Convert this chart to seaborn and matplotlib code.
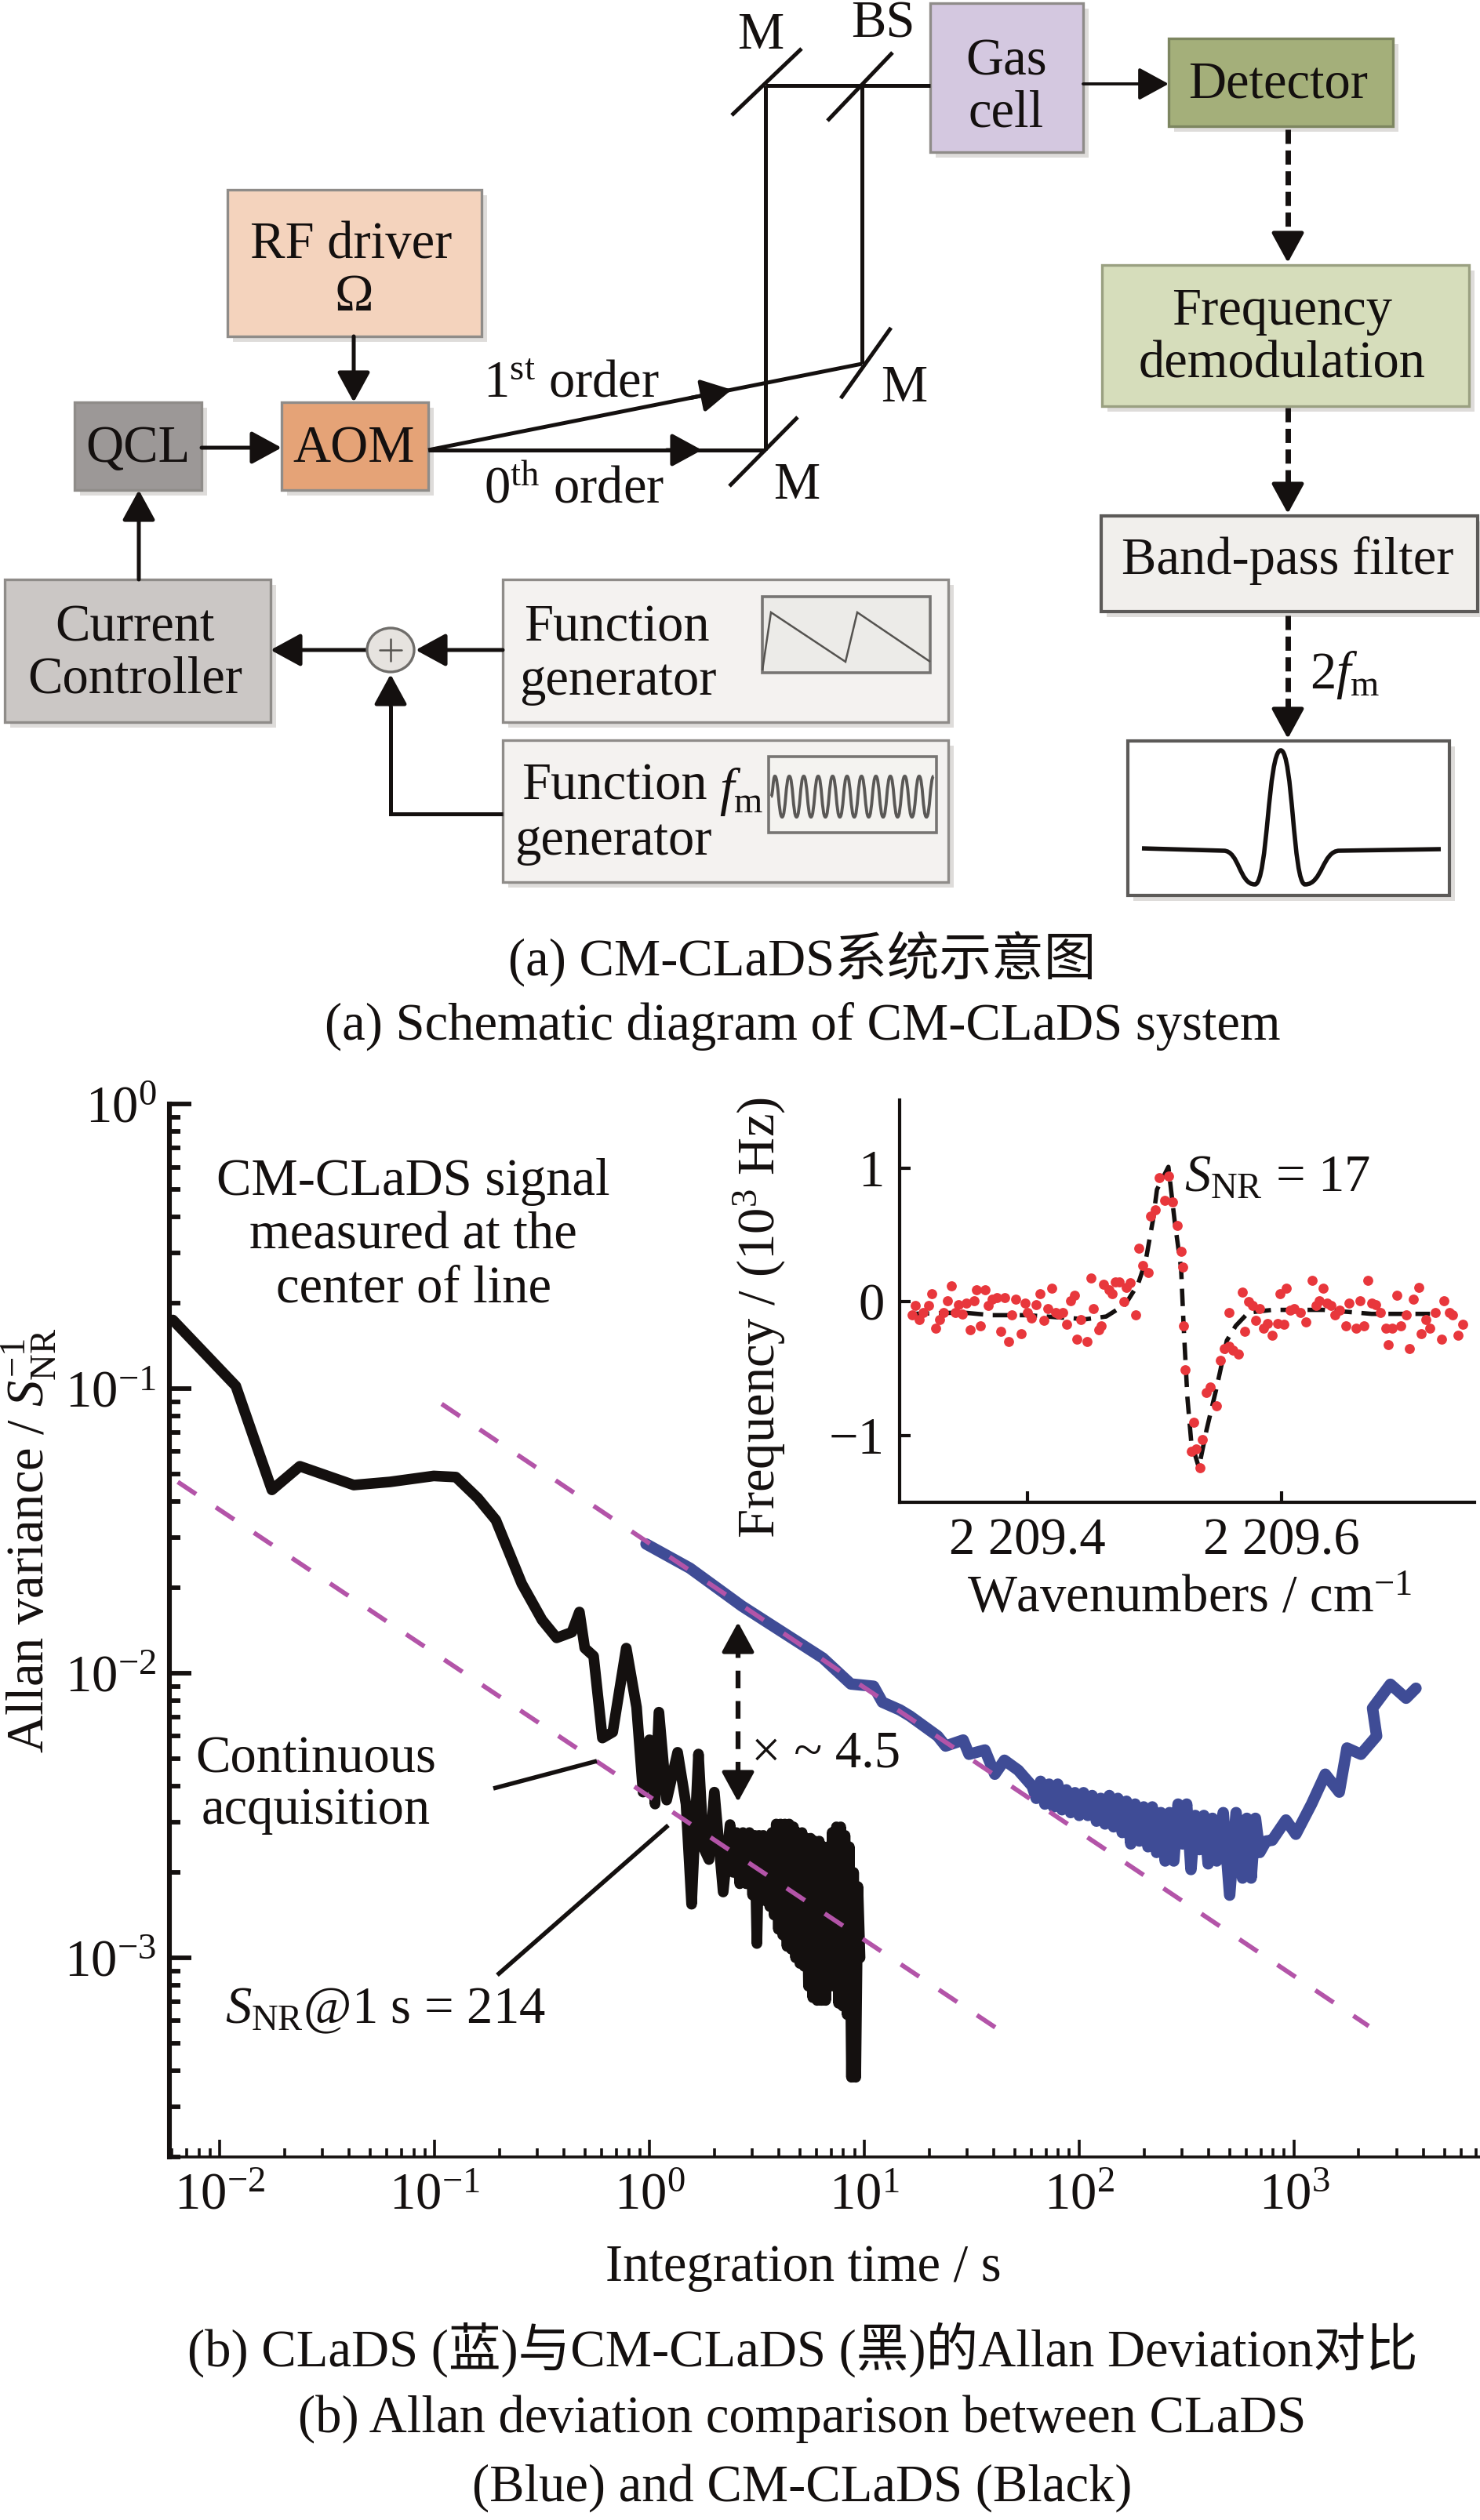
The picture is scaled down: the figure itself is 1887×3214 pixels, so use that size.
import numpy as np
import pandas as pd
import matplotlib
matplotlib.use('Agg')
import matplotlib.pyplot as plt
from matplotlib.patches import Rectangle, Ellipse, PathPatch
from matplotlib.path import Path
from matplotlib.ticker import LogLocator, FixedLocator, FixedFormatter, NullFormatter
import seaborn as sns

sns.set_theme(style='white')
plt.rcParams['font.family'] = ['Liberation Serif', 'Noto Sans CJK SC']
plt.rcParams['mathtext.fontset'] = 'custom'
plt.rcParams['mathtext.rm'] = 'Liberation Serif'
plt.rcParams['mathtext.it'] = 'Liberation Serif:italic'
plt.rcParams['mathtext.default'] = 'regular'
plt.rcParams['axes.unicode_minus'] = True

W, H = 1887, 3214
FS = 48
INK = '#14100f'

# Allan curves, as decades (log10 of time, log10 of variance)
black_logt = [-2.218, -2.084, -1.925, -1.841, -1.757, -1.627, -1.376, -1.208, -1.004, -0.901,
              -0.799, -0.715, -0.594, -0.500, -0.432, -0.361, -0.326, -0.301, -0.260, -0.219,
              -0.171, -0.108, -0.060, -0.030, 0.000, 0.026, 0.044, 0.080, 0.131, 0.170,
              0.196, 0.228, 0.252, 0.277, 0.302, 0.343, 0.375,
              0.390, 0.405, 0.420, 0.435, 0.450, 0.465, 0.480, 0.490, 0.500, 0.510, 0.520, 0.530, 0.540,
              0.550, 0.560, 0.570, 0.580, 0.590, 0.600, 0.610, 0.620, 0.630, 0.640, 0.650, 0.660, 0.670,
              0.680, 0.690, 0.700, 0.710, 0.720, 0.730, 0.740, 0.750, 0.760, 0.770, 0.780, 0.790, 0.800,
              0.810, 0.820, 0.830, 0.840, 0.850, 0.860, 0.870, 0.880, 0.890, 0.900, 0.910, 0.920, 0.930,
              0.940, 0.950, 0.960, 0.970, 0.980]
black_logy = [-0.759, -0.865, -0.991, -1.174, -1.356, -1.273, -1.339, -1.328, -1.307, -1.311,
              -1.385, -1.462, -1.686, -1.813, -1.876, -1.856, -1.785, -1.912, -1.940, -2.228,
              -2.207, -1.912, -2.120, -2.418, -2.234, -2.460, -2.137, -2.446, -2.278, -2.460,
              -2.812, -2.284, -2.614, -2.655, -2.418, -2.769, -2.532,
              -2.700, -2.560, -2.740, -2.560, -2.740, -2.560, -2.780, -2.570, -2.950, -2.570, -2.780, -2.570, -2.800,
              -2.590, -2.820, -2.560, -2.850, -2.530, -2.900, -2.530, -2.920, -2.530, -2.960, -2.530, -2.970, -2.540,
              -3.000, -2.560, -3.020, -2.560, -3.030, -2.580, -3.100, -2.580, -3.140, -2.590, -3.150, -2.590, -3.150,
              -2.610, -3.150, -2.610, -3.100, -2.560, -3.100, -2.540, -3.160, -2.540, -3.170, -2.570, -3.200, -2.610,
              -3.420, -2.700, -3.420, -2.750, -3.000]

blue_logt = [-0.016, 0.188, 0.430, 0.807, 0.937, 1.043, 1.084, 1.165, 1.213, 1.341, 1.378, 1.460,
             1.487, 1.561, 1.607, 1.652, 1.716, 1.781,
             1.80, 1.82, 1.84, 1.86, 1.88, 1.90, 1.92, 1.94, 1.96, 1.98, 2.00, 2.02, 2.04, 2.06, 2.08, 2.10,
             2.12, 2.14, 2.16, 2.18, 2.20, 2.22, 2.24, 2.26, 2.28, 2.30, 2.32, 2.34, 2.36, 2.38, 2.40, 2.42,
             2.44, 2.46, 2.48, 2.50, 2.52, 2.54, 2.56, 2.58, 2.60, 2.62, 2.64, 2.67, 2.70, 2.73, 2.76, 2.78,
             2.80, 2.82, 2.84, 2.87,
             2.898, 2.962, 3.008, 3.081, 3.145, 3.210, 3.246, 3.311, 3.384, 3.365, 3.448, 3.521, 3.567]
blue_logy = [-1.546, -1.631, -1.764, -1.947, -2.038, -2.046, -2.102, -2.129, -2.151, -2.221, -2.256, -2.235,
             -2.285, -2.270, -2.355, -2.306, -2.341, -2.397,
             -2.44, -2.38, -2.46, -2.39, -2.47, -2.39, -2.48, -2.41, -2.49, -2.42, -2.50, -2.42, -2.50, -2.43,
             -2.52, -2.44, -2.53, -2.43, -2.54, -2.44, -2.56, -2.45, -2.60, -2.46, -2.59, -2.47, -2.61, -2.47,
             -2.63, -2.49, -2.66, -2.49, -2.66, -2.46, -2.60, -2.46, -2.69, -2.50, -2.62, -2.50, -2.67, -2.51,
             -2.66, -2.49, -2.78, -2.49, -2.72, -2.51, -2.72, -2.51, -2.63, -2.59,
             -2.587, -2.516, -2.566, -2.460, -2.355, -2.418, -2.263, -2.285, -2.221, -2.123, -2.039, -2.088, -2.053]

guide_low_logt = [-2.195, 1.616]
guide_low_logy = [-1.328, -3.248]
guide_high_logt = [-0.967, 3.347]
guide_high_logy = [-1.054, -3.240]

# inset, wavenumber given as cm-1 above 2209
dot_wn = [0.309, 0.312, 0.315, 0.318, 0.322, 0.325, 0.328, 0.331, 0.334, 0.337, 0.340, 0.343, 0.346, 0.349,
          0.352, 0.355, 0.358, 0.360, 0.363, 0.367, 0.369, 0.372, 0.376, 0.379, 0.382, 0.385, 0.388, 0.391,
          0.395, 0.398, 0.400, 0.403, 0.407, 0.410, 0.413, 0.416, 0.419, 0.422, 0.425, 0.428, 0.431, 0.434,
          0.437, 0.439, 0.442, 0.447, 0.450, 0.452, 0.456, 0.458, 0.460, 0.464, 0.467, 0.469, 0.472, 0.476,
          0.478, 0.481, 0.485, 0.488, 0.491, 0.495, 0.497, 0.501, 0.504, 0.508, 0.511, 0.514, 0.518, 0.521,
          0.522, 0.523, 0.524, 0.531, 0.529, 0.533, 0.536, 0.538, 0.541, 0.544, 0.549, 0.552, 0.555, 0.559,
          0.562, 0.566, 0.559, 0.569, 0.571, 0.574, 0.577, 0.580, 0.583, 0.586, 0.589, 0.593, 0.597, 0.599,
          0.602, 0.604, 0.607, 0.610, 0.615, 0.619, 0.624, 0.627, 0.630, 0.633, 0.636, 0.639, 0.642, 0.646,
          0.651, 0.653, 0.659, 0.662, 0.665, 0.668, 0.671, 0.674, 0.678, 0.682, 0.684, 0.687, 0.691, 0.694,
          0.698, 0.701, 0.704, 0.708, 0.710, 0.714, 0.717, 0.721, 0.726, 0.728, 0.732, 0.735, 0.739, 0.743]
dot_freq = [-0.10, -0.03, -0.13, -0.08, -0.03, 0.06, -0.20, -0.13, -0.08, 0.01, 0.12, -0.08, -0.02, -0.09,
            -0.01, -0.21, 0.01, 0.09, -0.18, 0.09, -0.03, 0.02, 0.03, -0.22, 0.03, -0.30, -0.10, 0.02,
            -0.24, -0.01, -0.08, -0.12, -0.02, 0.06, -0.14, -0.05, 0.10, -0.08, -0.09, -0.08, -0.17, 0.01,
            0.05, -0.28, -0.13, -0.30, 0.18, -0.05, -0.21, -0.18, 0.13, 0.09, 0.06, 0.15, 0.15, 0.00,
            0.11, 0.14, -0.10, 0.40, 0.27, 0.22, 0.64, 0.69, 0.93, 0.76, 0.94, 0.75, 0.57, 0.38,
            0.26, -0.18, -0.51, -0.90, -1.12, -1.10, -1.24, -1.03, -0.68, -0.64, -0.78, -0.44, -0.35, -0.33,
            -0.36, -0.39, -0.08, 0.07, -0.22, 0.00, -0.03, -0.14, -0.05, -0.20, -0.16, -0.25, -0.16, 0.06,
            -0.17, 0.10, -0.06, -0.05, -0.08, -0.15, 0.16, -0.03, 0.01, 0.10, -0.01, -0.03, -0.10, -0.06,
            -0.18, -0.01, -0.20, 0.01, -0.18, 0.16, -0.01, -0.02, -0.08, -0.20, -0.32, -0.20, 0.05, -0.18,
            -0.10, -0.35, 0.02, 0.11, -0.24, -0.13, -0.20, -0.08, -0.28, 0.01, -0.08, -0.10, -0.25, -0.17]
fit_wn = [0.309, 0.349, 0.372, 0.400, 0.415, 0.446, 0.462, 0.477, 0.487, 0.493, 0.499, 0.502, 0.511, 0.516,
          0.521, 0.523, 0.526, 0.529, 0.535, 0.541, 0.549, 0.557, 0.564, 0.574, 0.593, 0.633, 0.671, 0.717]
fit_freq = [-0.09, -0.08, -0.10, -0.10, -0.11, -0.13, -0.11, -0.02, 0.13, 0.30, 0.62, 0.84, 1.01, 0.60,
            0.25, -0.18, -0.72, -1.05, -1.24, -0.96, -0.64, -0.29, -0.18, -0.08, -0.06, -0.06, -0.09, -0.09]

wn_ticks = [2209.4, 2209.6]
wn_labels = ['2 209.4', '2 209.6']
freq_ticks = [-1, 0, 1]
freq_labels = ['\u22121', '0', '1']

black = pd.DataFrame({'t': 10.0 ** np.array(black_logt), 'v': 10.0 ** np.array(black_logy)})
blue = pd.DataFrame({'t': 10.0 ** np.array(blue_logt), 'v': 10.0 ** np.array(blue_logy)})
dots = pd.DataFrame({'wn': 2209 + np.array(dot_wn), 'f': dot_freq})
fit = pd.DataFrame({'wn': 2209 + np.array(fit_wn), 'f': fit_freq})

fig = plt.figure(figsize=(W / 100, H / 100), dpi=100, facecolor='white')


def rect_from_px(x0, y0, x1, y1):
    return [x0 / W, 1 - y1 / H, (x1 - x0) / W, (y1 - y0) / H]


# main plot
ax = fig.add_axes(rect_from_px(216, 1408, W, 2751), facecolor='none')
ax.set_xscale('log')
ax.set_yscale('log')
dash_style = (0, (4.8, 5.2))
for lt, ly in [(guide_low_logt, guide_low_logy), (guide_high_logt, guide_high_logy)]:
    guide = pd.DataFrame({'t': 10.0 ** np.array(lt), 'v': 10.0 ** np.array(ly)})
    sns.lineplot(data=guide, x='t', y='v', ax=ax, color='#b354a8', linewidth=4.2, linestyle=dash_style,
                 zorder=4, estimator=None, sort=False)
sns.lineplot(data=black, x='t', y='v', ax=ax, color=INK, linewidth=9.8, estimator=None, sort=False,
             solid_joinstyle='round', solid_capstyle='round', zorder=3)
sns.lineplot(data=blue, x='t', y='v', ax=ax, color='#3f4c96', linewidth=10.5, estimator=None, sort=False,
             solid_joinstyle='round', solid_capstyle='round', zorder=3)
ax.set_xlim(10 ** -2.234, 10 ** 3.865)
ax.set_ylim(10 ** -3.70, 1)
sns.despine(ax=ax)
ax.spines['left'].set_linewidth(4.4)
ax.spines['bottom'].set_linewidth(2.6)
ax.spines['left'].set_color(INK)
ax.spines['bottom'].set_color(INK)
ax.xaxis.set_major_locator(LogLocator(base=10, numticks=12))
ax.xaxis.set_minor_locator(LogLocator(base=10, subs=range(2, 10), numticks=12))
ax.yaxis.set_major_locator(LogLocator(base=10, numticks=12))
ax.yaxis.set_minor_locator(LogLocator(base=10, subs=range(2, 10), numticks=12))
ax.xaxis.set_minor_formatter(NullFormatter())
ax.yaxis.set_minor_formatter(NullFormatter())
ax.tick_params(axis='x', which='major', direction='in', length=16, width=2.6, color=INK,
               labelsize=FS, labelcolor=INK, pad=14, bottom=True)
ax.tick_params(axis='x', which='minor', direction='in', length=8, width=2.6, color=INK, bottom=True)
ax.tick_params(axis='y', which='major', direction='in', length=20, width=4.2, color=INK,
               labelsize=FS, labelcolor=INK, pad=12, left=True)
ax.tick_params(axis='y', which='minor', direction='in', length=10, width=4.2, color=INK, left=True)
ax.set_xlabel('Integration time / s', fontsize=FS, color=INK, va='center')
ax.xaxis.set_label_coords(0.484, -0.105)
ax.set_ylabel(r'Allan variance / $\mathit{S}_{NR}^{-1}$', fontsize=FS, color=INK, va='center')
ax.yaxis.set_label_coords(-0.107, 0.585)

# spectrum inset
axi = fig.add_axes(rect_from_px(1147, 1403, 1880, 1916), facecolor='none')
sns.lineplot(data=fit, x='wn', y='f', ax=axi, color=INK, linewidth=4, linestyle=(0, (4, 2.2)),
             estimator=None, sort=False, zorder=3)
sns.scatterplot(data=dots, x='wn', y='f', ax=axi, color='#e8373c', s=85, linewidth=0, zorder=4, clip_on=False)
axi.set_xlim(2209.2994, 2209.752)
axi.set_ylim(-1.5, 1.51)
sns.despine(ax=axi)
for side in ['left', 'bottom']:
    axi.spines[side].set_linewidth(3)
    axi.spines[side].set_color(INK)
axi.xaxis.set_major_locator(FixedLocator(wn_ticks))
axi.xaxis.set_major_formatter(FixedFormatter(wn_labels))
axi.yaxis.set_major_locator(FixedLocator(freq_ticks))
axi.yaxis.set_major_formatter(FixedFormatter(freq_labels))
axi.tick_params(axis='both', direction='in', length=10, width=3, color=INK, labelsize=FS,
                labelcolor=INK, left=True, bottom=True, pad=14)
axi.set_xlabel('Wavenumbers / cm$^{-1}$', fontsize=FS, color=INK, va='center')
axi.xaxis.set_label_coords(0.505, -0.24)
axi.set_ylabel('Frequency / (10$^{3}$ Hz)', fontsize=FS, color=INK, va='center')
axi.yaxis.set_label_coords(-0.243, 0.458)

# overlay in image pixels for the schematic, captions and annotations
ov = fig.add_axes([0, 0, 1, 1], facecolor='none', zorder=10)
ov.set_xlim(0, W)
ov.set_ylim(H, 0)
ov.set_xticks([])
ov.set_yticks([])
ov.axis('off')


def txt(x, y, s, ha='center', size=FS, **kw):
    ov.text(x, y + 5, s, ha=ha, va='center', fontsize=size, color=INK, **kw)


def box(x0, y0, x1, y1, fc, ec='#8f8c89', shadow=True, lw=2.4):
    if shadow:
        ov.add_patch(Rectangle((x0 + 7, y0 + 7), x1 - x0, y1 - y0, fc='#dedcda', ec='none', zorder=1))
    ov.add_patch(Rectangle((x0, y0), x1 - x0, y1 - y0, fc=fc, ec=ec, lw=lw, zorder=2))


def seg(pts, lw=3.6, color=INK, **kw):
    xs, ys = zip(*pts)
    ov.plot(xs, ys, color=color, lw=lw, solid_capstyle='butt', solid_joinstyle='miter', zorder=3, **kw)


def arrow(x0, y0, x1, y1, lw=3.6):
    ov.annotate('', xy=(x1, y1), xytext=(x0, y0), zorder=4,
                arrowprops=dict(arrowstyle='-|>,head_length=0.55,head_width=0.3', mutation_scale=43,
                                lw=lw, color=INK, shrinkA=0, shrinkB=0))


def dash_arrow(x, y0, y1):
    seg([(x, y0), (x, y1 - 30)], lw=5, linestyle=(0, (2.6, 1.2)))
    arrow(x, y1 - 34, x, y1)


box(290, 242, 614, 429, '#f4d3bd')
box(95, 513, 257, 625, '#9c9897')
box(359, 513, 546, 625, '#e5a377')
box(6, 739, 345, 921, '#cbc7c5')
box(641, 739, 1209, 921, '#f4f2f0')
box(641, 944, 1209, 1125, '#f4f2f0')
box(1186, 4, 1381, 194, '#d4c8e0')
box(1490, 49, 1776, 161, '#a4af7a', ec='#7d8660')
box(1405, 338, 1873, 518, '#d6ddbb', ec='#9aa081')
box(1404, 658, 1884, 780, '#f1efec', ec='#5c5a58', lw=3)
box(1438, 945, 1848, 1142, 'white', ec='#5c5a58', lw=3)

# saw and sine glyphs
box(972, 761, 1186, 858, '#ecebe8', ec='#777573', lw=2.6)
seg([(972, 855), (983, 781), (1078, 844), (1093, 781), (1186, 844)], lw=1.8, color='#555350')
box(980, 965, 1194, 1062, '#f4f3f0', ec='#777573', lw=2.6)
verts, codes = [(983, 1016)], [Path.MOVETO]
px, py = 983, 1016
for i in range(23):
    nx, ny = 988 + i * 9.2, (990 if i % 2 == 0 else 1042)
    mid = (px + nx) / 2
    verts += [(mid, py), (mid, ny), (nx, ny)]
    codes += [Path.CURVE4] * 3
    px, py = nx, ny
ov.add_patch(PathPatch(Path(verts, codes), fc='none', ec='#5a5856', lw=2.8, zorder=3))

# 2f_m line shape
shape = [(1560, 1085), (1600, 1128), (1633, 957), (1664, 1128), (1708, 1085)]
verts, codes = [(1456, 1082), shape[0]], [Path.MOVETO, Path.LINETO]
for (ax0, ay0), (ax1, ay1) in zip(shape[:-1], shape[1:]):
    mid = (ax0 + ax1) / 2
    verts += [(mid, ay0), (mid, ay1), (ax1, ay1)]
    codes += [Path.CURVE4] * 3
verts.append((1837, 1083))
codes.append(Path.LINETO)
ov.add_patch(PathPatch(Path(verts, codes), fc='none', ec=INK, lw=4, zorder=3))

# beam paths and mirrors
seg([(976, 109), (1186, 109)])
seg([(976, 109), (976, 574)])
seg([(1099, 109), (1099, 464)])
seg([(546, 574), (976, 574)])
seg([(546, 574), (1099, 464)])
arrow(850, 574, 895, 574)
arrow(880, 507.6, 933, 497)
for m in [[(933, 147), (1022, 62)], [(1055, 154), (1138, 67)], [(1072, 508), (1136, 418)], [(930, 620), (1017, 532)]]:
    seg(m)

arrow(451, 429, 451, 513)
arrow(257, 571, 359, 571)
arrow(177, 739, 177, 625)
arrow(468, 829, 345, 829)
arrow(641, 829, 530, 829)
seg([(641, 1038), (498, 1038), (498, 900)])
arrow(498, 900, 498, 860)
arrow(1381, 107, 1490, 107, lw=2.8)
dash_arrow(1642, 165, 335)
dash_arrow(1642, 520, 655)
dash_arrow(1642, 785, 942)

ov.add_patch(Ellipse((498, 829), 60, 56, fc='#e6e3df', ec='#6f6d6a', lw=2.4, zorder=5))
ov.plot([484, 512], [829, 829], color='#55534f', lw=1.8, zorder=6)
ov.plot([498, 498], [815, 843], color='#55534f', lw=1.8, zorder=6)

# schematic text
txt(448, 307, 'RF driver')
txt(451, 374, '\u03a9')
txt(176, 568, 'QCL')
txt(451, 568, 'AOM')
txt(172, 796, 'Current')
txt(172, 862, 'Controller')
txt(786, 796, 'Function')
txt(788, 864, 'generator')
txt(783, 998, 'Function')
txt(782, 1068, 'generator')
txt(945, 1005, r'$\mathit{f}_{m}$')
txt(728, 484, '1$^{st}$ order')
txt(732, 620, '0$^{th}$ order')
txt(970, 40, 'M')
txt(1126, 26, 'BS')
txt(1153, 491, 'M')
txt(1016, 615, 'M')
txt(1283, 74, 'Gas')
txt(1283, 140, 'cell')
txt(1630, 103, 'Detector')
txt(1635, 392, 'Frequency')
txt(1635, 460, 'demodulation')
txt(1642, 710, 'Band-pass filter')
txt(1715, 856, r'2$\mathit{f}_{m}$')

# plot annotations
txt(527, 1502, 'CM-CLaDS signal')
txt(527, 1571, 'measured at the')
txt(527, 1639, 'center of line')
txt(403, 2239, 'Continuous')
txt(403, 2305, 'acquisition')
txt(287, 2560, r'$\mathit{S}_{NR}$@1 s = 214', ha='left')
txt(1510, 1498, r'$\mathit{S}_{NR}$ = 17', ha='left')
txt(958, 2232, '\u00d7 ~ 4.5', ha='left')
seg([(629, 2281), (761, 2246)], lw=4)
seg([(634, 2519), (852, 2328)], lw=4)
seg([(941, 2092), (941, 2276)], lw=4.5, linestyle=(0, (3.6, 2.6)))
arrow(941, 2104, 941, 2069)
arrow(941, 2263, 941, 2298)

# captions
txt(1023, 1218, '(a) CM-CLaDS系统示意图')
txt(1023, 1304, '(a) Schematic diagram of CM-CLaDS system')
txt(1023, 2992, '(b) CLaDS (蓝)与CM-CLaDS (黑)的Allan Deviation对比')
txt(1023, 3080, '(b) Allan deviation comparison between CLaDS')
txt(1023, 3168, '(Blue) and CM-CLaDS (Black)')

fig.savefig('out.png', dpi=100, facecolor='white')
